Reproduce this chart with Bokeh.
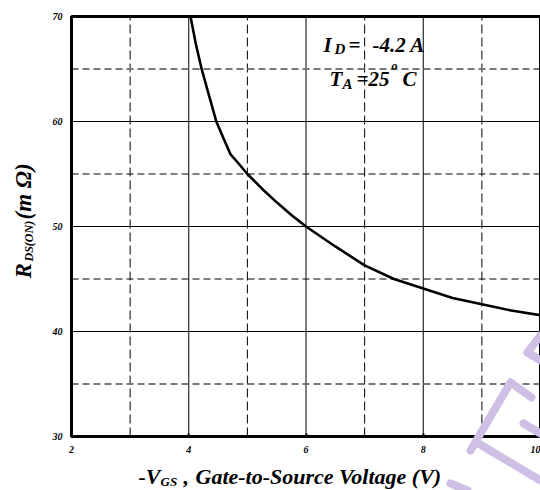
import math
from bokeh.plotting import figure
from bokeh.models import Range1d, FixedTicker, Label, Arrow
from bokeh.embed import file_html
from bokeh.resources import INLINE

# ---- data ----
vgs = [4.03, 4.12, 4.22, 4.35, 4.47, 4.6, 4.71, 4.85, 5.0, 5.25, 5.5, 5.75,
       6.0, 6.5, 7.0, 7.5, 8.0, 8.5, 9.0, 9.5, 10.0]
rds_on = [70.0, 67.4, 65.0, 62.4, 60.0, 58.3, 56.9, 56.0, 55.0, 53.6, 52.3, 51.1,
          50.0, 48.1, 46.3, 45.0, 44.1, 43.2, 42.6, 42.0, 41.55]

x_ticks = [2, 4, 6, 8, 10]
x_minor = [3, 5, 7, 9]
y_ticks = [30, 40, 50, 60, 70]
y_minor_grey = [35, 65]
y_minor_black = [45, 55]

FONT = "Liberation Serif"

# layout: data box spans page px 71..540 (x) and 16..436 (y)
W, H = 540, 490
FL, FR, FT, FB = 71, 540, 16, 436
X0, X1 = x_ticks[0], x_ticks[-1]
Y0, Y1 = y_ticks[0], y_ticks[-1]
SH = 7  # baseline correction for text placement


def tx(px):
    return X0 + (px - FL) * (X1 - X0) / (FR - FL)


def ty(py):
    return Y1 - (py - FT) * (Y1 - Y0) / (FB - FT)


p = figure(width=W, height=H, x_range=Range1d(tx(0), tx(W)), y_range=Range1d(ty(H), ty(0)),
           output_backend="svg", toolbar_location=None,
           min_border_left=0, min_border_right=0, min_border_top=0, min_border_bottom=0)
p.background_fill_color = "white"
p.border_fill_color = "white"
p.outline_line_color = None
p.grid.visible = False

p.xaxis.ticker = FixedTicker(ticks=x_ticks, minor_ticks=[])
p.yaxis.ticker = FixedTicker(ticks=y_ticks, minor_ticks=[])
p.xaxis.fixed_location = Y0
p.yaxis.fixed_location = X0
p.xaxis.bounds = (X0, X1)
p.yaxis.bounds = (Y0, Y1)
for ax in (p.xaxis, p.yaxis):
    ax.axis_line_color = None
    ax.major_tick_out = 0
    ax.minor_tick_out = 0
    ax.minor_tick_in = 0
    ax.major_label_text_font = FONT
    ax.major_label_text_font_style = "bold italic"
    ax.major_label_text_font_size = "10px"
    ax.major_label_text_color = "black"
    ax.major_label_standoff = 9
p.xaxis.major_tick_in = 3
p.xaxis.major_tick_line_width = 2
p.xaxis.major_tick_line_color = "black"
p.yaxis.major_tick_in = 0

# grid lines (bounded to the data box)
p.segment(x0=x_ticks, y0=[Y0] * len(x_ticks), x1=x_ticks, y1=[Y1] * len(x_ticks),
          line_color="black", line_width=1)
p.segment(x0=x_minor, y0=[Y0] * len(x_minor), x1=x_minor, y1=[Y1] * len(x_minor),
          line_color="black", line_width=1, line_dash="9 4")
p.segment(x0=[X0] * len(y_ticks), y0=y_ticks, x1=[X1] * len(y_ticks), y1=y_ticks,
          line_color="black", line_width=1)
p.segment(x0=[X0] * len(y_minor_black), y0=y_minor_black, x1=[X1] * len(y_minor_black),
          y1=y_minor_black, line_color="black", line_width=1, line_dash="7 4")
p.segment(x0=[X0] * len(y_minor_grey), y0=y_minor_grey, x1=[X1] * len(y_minor_grey),
          y1=y_minor_grey, line_color="#777777", line_width=2, line_dash="7 4")

p.line(vgs, rds_on, line_color="black", line_width=2.6)

# frame of the data box
p.quad(left=[X0], right=[X1], bottom=[Y0], top=[Y1], fill_color=None,
       line_color="black", line_width=3)


def lab(text, xp, yp, size, angle=0.0):
    if angle == 0.0:
        yp = yp - SH
    else:
        xp = xp - SH
    p.add_layout(Label(x=tx(xp), y=ty(yp), text=text, text_font=FONT,
                       text_font_style="bold italic", text_font_size=f"{size}px",
                       text_color="black", text_baseline="alphabetic",
                       text_align="left", angle=angle))


# annotation in the plot
lab("I", 323, 51, 21)
lab("D", 334, 55, 15)
lab("=", 348, 51, 21)
lab("-4.2 A", 372, 51, 21)
lab("T", 329, 85, 21)
lab("A", 342, 90, 15)
lab("=25", 356, 85, 21)
lab("o", 391, 72, 12)
lab("C", 402, 85, 21)

# x-axis title
lab("-V", 138, 483, 22)
lab("GS", 160, 488, 13)
lab(",", 183, 483, 22)
lab("Gate-to-Source Voltage (V)", 195, 483, 22)

# y-axis title (rotated)
a = math.pi / 2
lab("R", 30, 278, 23, a)
lab("DS(ON)", 35, 261, 12, a)
lab("(m \u03a9)", 30, 219, 23, a)

# watermark (decoration)
wm = [((540, 335), (527, 352)), ((527, 352), (540, 360)),
      ((510, 382), (470, 450)), ((510, 382), (531, 397)),
      ((478, 443), (540, 480)), ((523, 423), (540, 433)),
      ((450, 483), (467, 490))]
for (x0, y0), (x1, y1) in wm:
    p.add_layout(Arrow(end=None, x_start=tx(x0), y_start=ty(y0),
                       x_end=tx(x1), y_end=ty(y1), line_color="#cfbfe4",
                       line_width=8, line_cap="round"))

open("out.html", "w").write(file_html(p, INLINE))
